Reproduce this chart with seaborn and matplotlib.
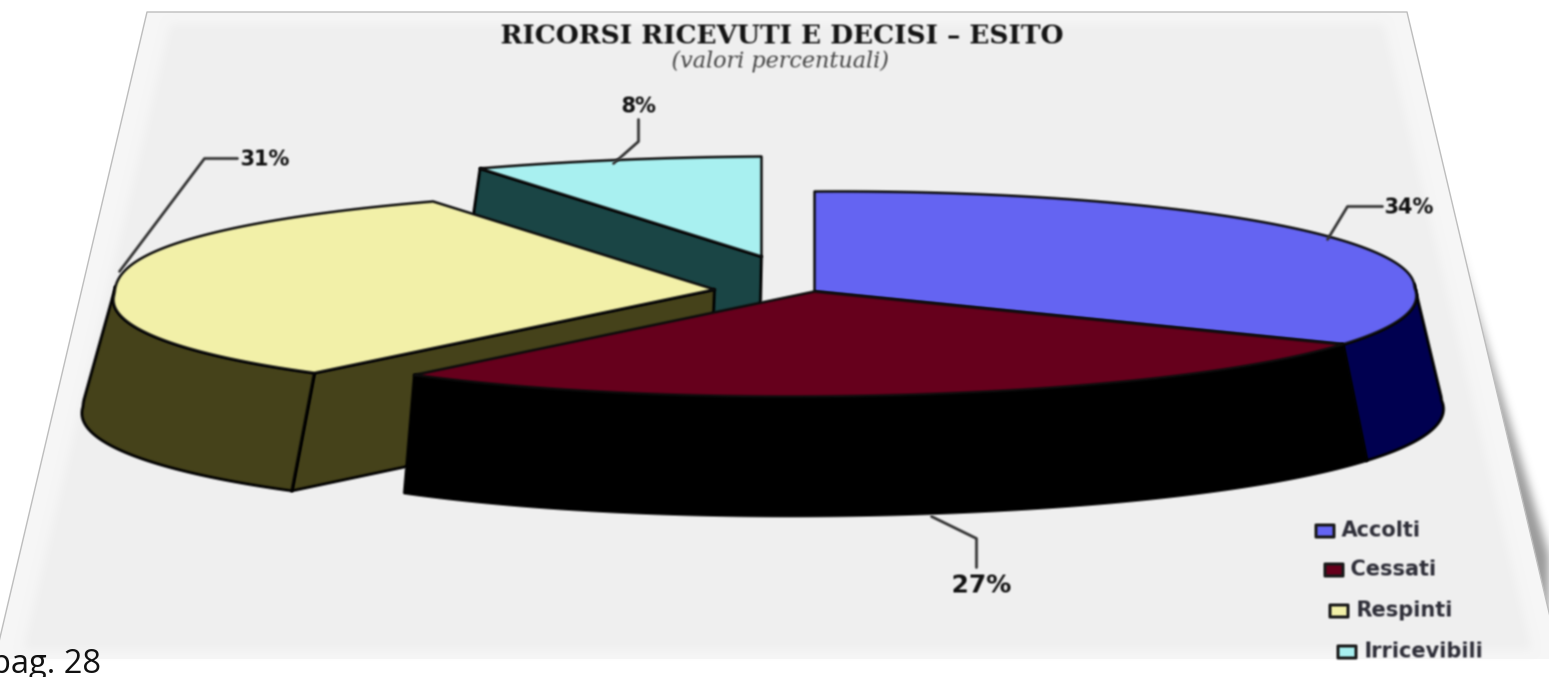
import numpy as np
import pandas as pd
import matplotlib
matplotlib.use("Agg")
import matplotlib.pyplot as plt
from matplotlib.patches import Polygon
import seaborn as sns

# Esito dei ricorsi, in percentuale
categories = ["Accolti", "Cessati", "Respinti", "Irricevibili"]
percent = [34, 27, 31, 8]
top_colors = ["#6464f2", "#66001c", "#f2f0a8", "#a8f0f0"]
wall_colors = ["#000050", "#000000", "#45421a", "#1a4545"]

sns.set_theme(style="white")
palette = sns.color_palette(top_colors)
walls = sns.color_palette(wall_colors)

W, H = 1549, 677
fig = plt.figure(figsize=(W / 100, H / 100), dpi=100)
ax = fig.add_axes([0, 0, 1, 1])
ax.set_xlim(0, W)
ax.set_ylim(H, 0)
ax.axis("off")


def blur(radius):
    """Soft-focus filter for artists: three box passes over the RGBA buffer."""
    def apply(image, dpi):
        pad = int(radius * 4) + 1
        img = np.pad(image, ((pad, pad), (pad, pad), (0, 0)), constant_values=0.0)
        img[..., :3] *= img[..., 3:]
        size = max(int(radius * 2) + 1, 1)
        kernel = np.ones(size) / size
        for _ in range(3):
            for axis in (0, 1):
                img = np.apply_along_axis(np.convolve, axis, img, kernel, mode="same")
        alpha = np.clip(img[..., 3:], 1e-6, 1)
        img[..., :3] = np.clip(img[..., :3] / alpha, 0, 1)
        return img, -pad, -pad
    return apply


# Foglio in prospettiva: ombra sul lato destro, fondo e bordi sottili
def page_edges(y, inset=0.0):
    return 147 - 0.235 * (y - 12) + inset, 1407 + 0.2365 * (y - 12) - inset


def page_polygon(top, bottom, inset=0.0):
    lt, rt = page_edges(top, inset)
    lb, rb = page_edges(bottom, inset)
    return [(lt, top), (rt, top), (rb, bottom), (lb, bottom)]


_, shade_top = page_edges(230)
_, shade_low = page_edges(659)
ax.add_patch(Polygon([(shade_top - 6, 230), (shade_low + 20, 659), (shade_low - 6, 659)],
                     fc="#9a9a9a", ec="none", agg_filter=blur(4), zorder=0))
ax.add_patch(Polygon(page_polygon(12, 659), fc="#f6f6f6", ec="none", zorder=1))
ax.add_patch(Polygon(page_polygon(24, 650, inset=26), fc="#f0f0f0", ec="none",
                     agg_filter=blur(4), zorder=2))
outline = page_polygon(12, 659)
ax.plot([outline[3][0], outline[0][0], outline[1][0], outline[2][0]],
        [outline[3][1], outline[0][1], outline[1][1], outline[2][1]],
        color="#bdbdbd", lw=1.0, zorder=3)

# Geometria della torta: angoli in senso orario dalle ore 12
RX, RY_BACK, RY_FRONT = 600.0, 100.0, 105.0
PIVOT_X = 813.0
centres = {"Accolti": (813, 290), "Cessati": (813, 290),
           "Respinti": (713, 288), "Irricevibili": (760, 255)}

shares = pd.DataFrame({"categoria": categories, "pct": percent})
shares["fine"] = shares["pct"].cumsum() * 3.6
shares["inizio"] = shares["fine"] - shares["pct"] * 3.6


def rim(cx, cy, start, stop, n=120):
    theta = np.radians(np.linspace(start, stop, n))
    u, v = np.sin(theta), np.cos(theta)
    widen = np.where(u > 0, 1 + 0.08 * np.clip(-v, 0, None),
                     np.where(v < 0, 1 - 0.06 * v, 1 - 0.03 * v))
    back_left = (u < 0) & (v > 0)
    lift = np.where(back_left, np.abs(v) ** 0.8, v)
    x = cx + RX * u * widen
    y = cy - np.where(v > 0, RY_BACK, RY_FRONT) * lift - 4 * u
    return x, y


def lowered(x, y, left_flare):
    x, y = np.asarray(x), np.asarray(y)
    flare = np.where(x < PIVOT_X, left_flare, 1.045)
    return PIVOT_X + (x - PIVOT_X) * flare, y + 113 + (y - 290) * 0.06


def draw_wall(xs, ys, color, z, left_flare=1.045):
    bx, by = lowered(xs, ys, left_flare)
    pts = np.r_[np.c_[xs, ys], np.c_[bx, by][::-1]]
    ax.add_patch(Polygon(pts, fc=color, ec="black", lw=2, joinstyle="round",
                         agg_filter=blur(0.6), zorder=z))


# Si disegna da dietro in avanti: Irricevibili, Respinti, Accolti, Cessati
order = ["Irricevibili", "Respinti", "Accolti", "Cessati"]
for k, name in enumerate(order):
    row = shares[shares["categoria"] == name].iloc[0]
    i = categories.index(name)
    cx, cy = centres[name]
    z = 5 + k * 2
    x, y = rim(cx, cy, row["inizio"], row["fine"])

    # fianchi radiali visibili
    if name in ("Irricevibili", "Respinti"):
        draw_wall(np.array([x[0], cx]), np.array([y[0], cy]), walls[i], z)

    # parete esterna, solo la metà anteriore del bordo
    lo, hi = max(row["inizio"], 88), min(row["fine"], 272)
    if lo < hi:
        wx, wy = rim(cx, cy, lo, hi)
        draw_wall(wx, wy, walls[i], z, 1.025 if name == "Cessati" else 1.045)

    ax.add_patch(Polygon(np.r_[[(cx, cy)], np.c_[x, y]], fc=palette[i],
                         ec="#0c0c0c", lw=1.8, joinstyle="round",
                         agg_filter=blur(0.6), zorder=z + 1))

# Titolo
soft = blur(0.7)
ax.text(781, 34, "RICORSI RICEVUTI E DECISI – ESITO", family="DejaVu Serif",
        weight="bold", fontsize=19, color="#141414", ha="center", va="center",
        agg_filter=soft, zorder=20)
ax.text(779, 60, "(valori percentuali)", family="DejaVu Serif", style="italic",
        fontsize=16, color="#444444", ha="center", va="center",
        agg_filter=soft, zorder=20)

# Etichette percentuali con linee di richiamo
leaders = {
    "Accolti": ([1326, 238], [1346, 205], [1381, 205]),
    "Cessati": ([930, 515], [975, 537], [975, 566]),
    "Respinti": ([118, 270], [203, 157], [236, 157]),
    "Irricevibili": ([612, 162], [637, 140], [637, 118]),
}
label_spots = {"Accolti": (1408, 206, 15), "Cessati": (980, 584, 18),
               "Respinti": (264, 158, 15), "Irricevibili": (637, 105, 15)}
for name, pct in zip(categories, percent):
    pts = np.array(leaders[name])
    ax.plot(pts[:, 0], pts[:, 1], color="#333333", lw=2, agg_filter=blur(0.5), zorder=18)
    lx, ly, size = label_spots[name]
    ax.text(lx, ly, f"{pct}%", family="DejaVu Sans", weight="bold", fontsize=size,
            color="#111111", ha="center", va="center", agg_filter=soft, zorder=20)

# Legenda
legend_spots = [(1323, 529), (1332, 568), (1337, 609), (1345, 650)]
for (lx, ly), name, col in zip(legend_spots, categories, palette):
    ax.add_patch(Polygon([(lx - 9, ly - 6), (lx + 9, ly - 6), (lx + 9, ly + 6), (lx - 9, ly + 6)],
                         fc=col, ec="#1a1a1a", lw=2.2, joinstyle="round",
                         agg_filter=soft, zorder=20))
    ax.text(lx + 17, ly, name, family="DejaVu Sans", weight="bold", fontsize=15,
            color="#2e2e38", ha="left", va="center", agg_filter=soft, zorder=20)

# Numero di pagina
ax.text(-9, 673, "pag. 28", family="Open Sans", fontsize=23.5, color="#111111",
        ha="left", va="baseline", zorder=25)

fig.savefig("out.png", dpi=100, facecolor="white")
